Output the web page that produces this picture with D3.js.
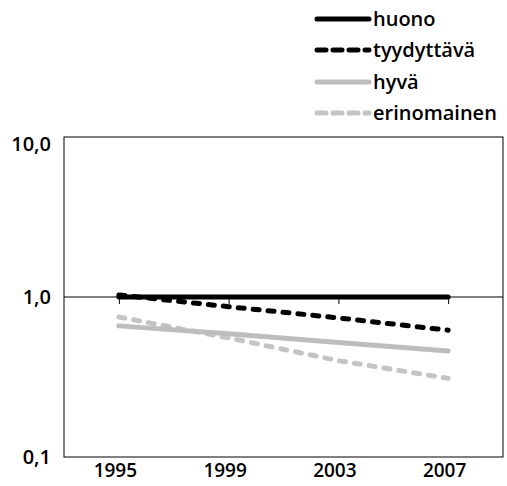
<!DOCTYPE html>
<html><head><meta charset="utf-8">
<script src="https://cdn.jsdelivr.net/npm/d3@7"></script>
<style>body{margin:0;background:#fff}svg{display:block}text{font-family:"Open Sans","Noto Sans",sans-serif}</style>
</head><body><svg id="c" width="507" height="486"></svg>
<script>
const years = [1995, 1999, 2003, 2007];
const seriesNames = ["huono", "tyydyttävä", "hyvä", "erinomainen"];
const huono = [1.0, 1.0, 1.0, 1.0];
const tyydyttava = [1.03, 0.87, 0.74, 0.62];
const hyva = [0.66, 0.59, 0.52, 0.46];
const erinomainen = [0.75, 0.555, 0.40, 0.31];
const yTicks = [0.1, 1, 10];
const yTickLabels = ["0,1", "1,0", "10,0"];

const series = [
  {name: seriesNames[0], values: huono, color: "#000", dash: null},
  {name: seriesNames[1], values: tyydyttava, color: "#000", dash: true},
  {name: seriesNames[2], values: hyva, color: "#bdbdbd", dash: null},
  {name: seriesNames[3], values: erinomainen, color: "#c4c4c4", dash: true}
];

const FONT = "'Open Sans','Noto Sans',sans-serif";
const svg = d3.select("#c");
const L = 64, R = 503, T = 137, B = 457;
const x = d3.scaleLinear().domain([1993, 2009]).range([L, R]);
const y = d3.scaleLog().domain([0.1, 10]).range([B, T]);

svg.append("rect").attr("x", L).attr("y", T).attr("width", R - L).attr("height", B - T)
  .attr("fill", "none").attr("stroke", "#000").attr("stroke-width", 1);

const ya = svg.append("g").attr("transform", `translate(${L},0)`)
  .call(d3.axisLeft(y).tickValues(yTicks).tickSize(0).tickPadding(13).tickFormat((d, i) => yTickLabels[i]));
ya.select(".domain").remove();
ya.selectAll("text").attr("font-size", 20).attr("font-weight", 600).attr("fill", "#000").attr("font-family", FONT)
  .attr("dy", d => d === 10 ? "0.65em" : "0.32em");

const xa = svg.append("g").attr("transform", `translate(0,${y(1)})`)
  .call(d3.axisBottom(x).tickValues(years).tickSize(7).tickFormat(""));
xa.select(".domain").attr("d", `M${L},0H${R}`).attr("stroke", "#000");
xa.selectAll("line").attr("stroke", "#000");

const xl = svg.append("g").attr("transform", `translate(0,${B})`)
  .call(d3.axisBottom(x).tickValues(years).tickSize(0).tickPadding(7).tickFormat(d3.format("d")));
xl.select(".domain").remove();
xl.selectAll("text").attr("font-size", 19).attr("font-weight", 600).attr("fill", "#000").attr("font-family", FONT)
  .attr("dx", -4);

const line = d3.line().x((d, i) => x(years[i])).y(d => y(d));
[3, 2, 1, 0].forEach(k => {
  const s = series[k];
  svg.append("path").datum(s.values).attr("d", line)
    .attr("fill", "none").attr("stroke", s.color).attr("stroke-width", 5)
    .attr("stroke-linecap", "round")
    .attr("stroke-dasharray", s.dash ? "6,9" : null);
});

const lg = svg.append("g");
const rowY = [19, 50, 82, 113];
series.forEach((s, i) => {
  lg.append("line").attr("x1", 317).attr("x2", 369).attr("y1", rowY[i]).attr("y2", rowY[i])
    .attr("stroke", s.color).attr("stroke-width", 5).attr("stroke-linecap", "round")
    .attr("stroke-dasharray", s.dash ? "9,7" : null);
  lg.append("text").attr("x", 373).attr("y", rowY[i]).attr("dy", "0.35em")
    .attr("font-size", 20).attr("font-weight", 600).attr("fill", "#000").attr("font-family", FONT).text(s.name);
});
</script></body></html>
